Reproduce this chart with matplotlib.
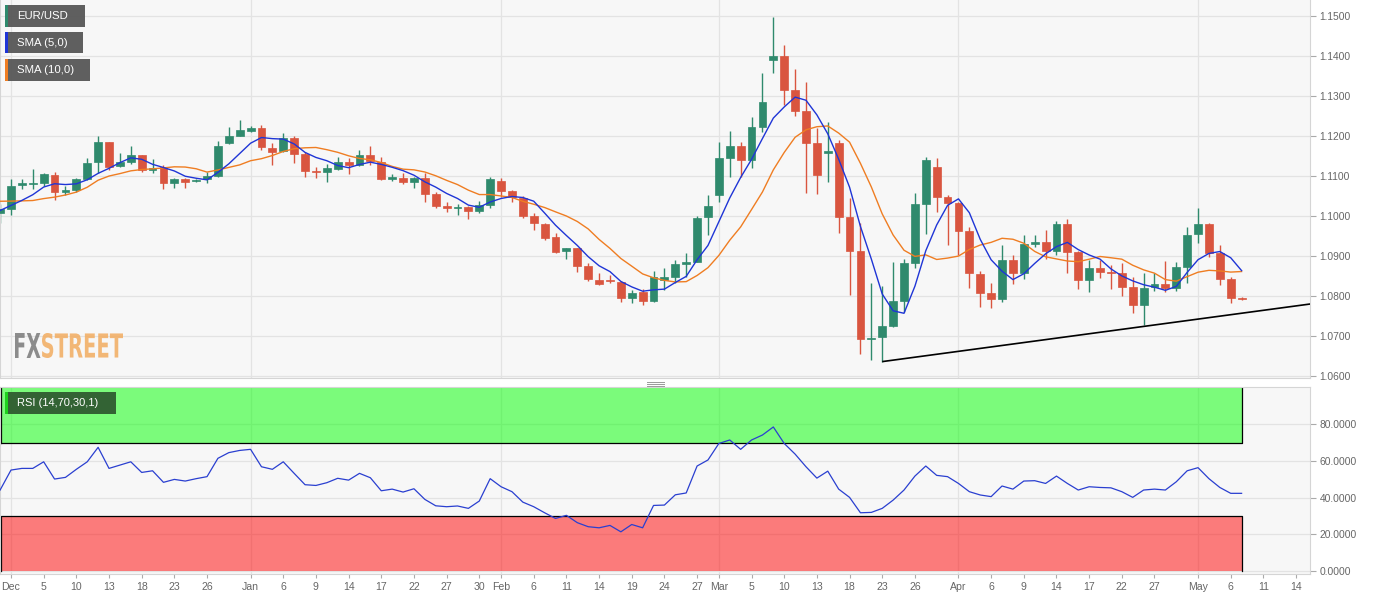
import pandas as pd
import numpy as np
import matplotlib
matplotlib.use("Agg")
import matplotlib.pyplot as plt
from matplotlib.patches import Rectangle, PathPatch
from matplotlib.lines import Line2D
from matplotlib.textpath import TextPath
from matplotlib.transforms import Affine2D
from matplotlib.font_manager import FontProperties

plt.rcParams['font.family'] = ['Liberation Sans', 'DejaVu Sans']

W, H = 1387, 598

# -----------------------------
# Data (EUR/USD daily)
# -----------------------------
axis_days = pd.bdate_range("2019-11-29", "2020-05-14")
candle_days = pd.bdate_range("2019-11-29", "2020-05-07")

# closes before the first visible candle (warm-up for the moving averages)
prior_closes = [1.1072, 1.1077, 1.1073, 1.1056, 1.1022, 1.1012, 1.1020, 1.1011, 1.1008]

opens = [1.1008,
         # Dec
         1.1018, 1.1077, 1.1080, 1.1083, 1.1103, 1.1059, 1.1065, 1.1092, 1.1134, 1.1184, 1.1125,
         1.1136, 1.1152, 1.1115, 1.1122, 1.1082, 1.1093, 1.1088, 1.1093, 1.1101, 1.1182, 1.1201,
         # Jan
         1.1213, 1.1219, 1.1171, 1.1163, 1.1196, 1.1155, 1.1112, 1.1109, 1.1117, 1.1135, 1.1128,
         1.1153, 1.1136, 1.1093, 1.1096, 1.1086, 1.1096, 1.1055, 1.1025, 1.1019, 1.1022, 1.1013,
         1.1028,
         # Feb
         1.1088, 1.1063, 1.1044, 1.1000, 1.0980, 1.0948, 1.0913, 1.0919, 1.0876, 1.0840, 1.0840,
         1.0836, 1.0796, 1.0809, 1.0788, 1.0840, 1.0848, 1.0880, 1.0886, 1.0997,
         # Mar
         1.1053, 1.1146, 1.1176, 1.1140, 1.1222, 1.1390, 1.1400, 1.1315, 1.1262, 1.1183, 1.1158,
         1.1183, 1.0998, 1.0913, 1.0692, 1.0697, 1.0726, 1.0788, 1.0883, 1.1030, 1.1122, 1.1047,
         # Apr
         1.1033, 1.0963, 1.0855, 1.0807, 1.0793, 1.0890, 1.0858, 1.0930, 1.0936, 1.0913, 1.0980,
         1.0911, 1.0840, 1.0869, 1.0861, 1.0857, 1.0823, 1.0778, 1.0822, 1.0830, 1.0819, 1.0872,
         # May
         1.0954, 1.0980, 1.0908, 1.0842, 1.0794]

highs = [1.1030,
         1.1092, 1.1092, 1.1117, 1.1107, 1.1111, 1.1075, 1.1094, 1.1144, 1.1200, 1.1186, 1.1158,
         1.1175, 1.1153, 1.1142, 1.1128, 1.1096, 1.1095, 1.1092, 1.1111, 1.1188, 1.1223, 1.1240,
         1.1226, 1.1228, 1.1182, 1.1207, 1.1200, 1.1160, 1.1122, 1.1130, 1.1147, 1.1145, 1.1165,
         1.1176, 1.1148, 1.1104, 1.1107, 1.1098, 1.1107, 1.1061, 1.1035, 1.1029, 1.1025, 1.1038,
         1.1097,
         1.1096, 1.1065, 1.1050, 1.1007, 1.0983, 1.0957, 1.0921, 1.0921, 1.0883, 1.0857, 1.0852,
         1.0838, 1.0815, 1.0818, 1.0863, 1.0871, 1.0890, 1.0907, 1.1000, 1.1053,
         1.1186, 1.1213, 1.1186, 1.1247, 1.1357, 1.1497, 1.1427, 1.1367, 1.1336, 1.1219, 1.1236,
         1.1190, 1.1044, 1.0983, 1.0832, 1.0826, 1.0886, 1.0893, 1.1058, 1.1147, 1.1144, 1.1053,
         1.1035, 1.0973, 1.0863, 1.0833, 1.0928, 1.0903, 1.0953, 1.0953, 1.0965, 1.0988, 1.0992,
         1.0913, 1.0890, 1.0890, 1.0878, 1.0883, 1.0848, 1.0857, 1.0857, 1.0888, 1.0886, 1.0972,
         1.1019, 1.0982, 1.0928, 1.0848, 1.0797]

lows = [1.0982,
        1.1002, 1.1067, 1.1067, 1.1076, 1.1040, 1.1052, 1.1059, 1.1090, 1.1108, 1.1115, 1.1123,
        1.1130, 1.1111, 1.1107, 1.1067, 1.1071, 1.1071, 1.1086, 1.1083, 1.1098, 1.1180, 1.1199,
        1.1211, 1.1165, 1.1128, 1.1160, 1.1132, 1.1097, 1.1094, 1.1084, 1.1115, 1.1106, 1.1125,
        1.1127, 1.1090, 1.1088, 1.1080, 1.1071, 1.1036, 1.1019, 1.1011, 1.1002, 1.0992, 1.1007,
        1.1019,
        1.1047, 1.1035, 1.0995, 1.0965, 1.0940, 1.0907, 1.0892, 1.0860, 1.0837, 1.0827, 1.0832,
        1.0786, 1.0783, 1.0778, 1.0786, 1.0815, 1.0833, 1.0848, 1.0884, 1.0953,
        1.1036, 1.1098, 1.1098, 1.1119, 1.1211, 1.1357, 1.1278, 1.1250, 1.1057, 1.1054, 1.1086,
        1.0957, 1.0803, 1.0655, 1.0640, 1.0636, 1.0723, 1.0761, 1.0869, 1.0955, 1.1011, 1.0928,
        1.0903, 1.0819, 1.0773, 1.0769, 1.0784, 1.0830, 1.0843, 1.0923, 1.0892, 1.0903, 1.0857,
        1.0817, 1.0811, 1.0846, 1.0817, 1.0800, 1.0757, 1.0728, 1.0812, 1.0811, 1.0812, 1.0833,
        1.0933, 1.0898, 1.0828, 1.0782, 1.0789]

closes = [1.1018,
          1.1075, 1.1083, 1.1082, 1.1104, 1.1059, 1.1065, 1.1092, 1.1133, 1.1184, 1.1122, 1.1136,
          1.1152, 1.1115, 1.1121, 1.1082, 1.1093, 1.1086, 1.1090, 1.1101, 1.1175, 1.1200, 1.1215,
          1.1219, 1.1172, 1.1161, 1.1194, 1.1155, 1.1113, 1.1109, 1.1120, 1.1134, 1.1128, 1.1153,
          1.1138, 1.1092, 1.1098, 1.1086, 1.1096, 1.1055, 1.1026, 1.1019, 1.1023, 1.1013, 1.1028,
          1.1092,
          1.1063, 1.1048, 1.1000, 1.0982, 1.0944, 1.0911, 1.0919, 1.0876, 1.0842, 1.0830, 1.0838,
          1.0796, 1.0808, 1.0788, 1.0847, 1.0847, 1.0879, 1.0884, 1.0996, 1.1026,
          1.1144, 1.1176, 1.1140, 1.1222, 1.1286, 1.1400, 1.1315, 1.1263, 1.1183, 1.1103, 1.1163,
          1.0998, 1.0913, 1.0692, 1.0696, 1.0726, 1.0788, 1.0882, 1.1030, 1.1140, 1.1048, 1.1033,
          1.0963, 1.0857, 1.0807, 1.0793, 1.0890, 1.0858, 1.0930, 1.0936, 1.0913, 1.0980, 1.0911,
          1.0840, 1.0869, 1.0861, 1.0858, 1.0823, 1.0778, 1.0821, 1.0830, 1.0819, 1.0872, 1.0953,
          1.0980, 1.0908, 1.0843, 1.0794, 1.0792]

rsi = [44.2,
       55.1, 56.0, 56.0, 59.6, 50.2, 51.1, 55.5, 59.6, 67.5, 56.0, 57.8,
       59.6, 53.8, 54.7, 48.4, 50.0, 49.1, 50.4, 51.5, 61.5, 64.6, 65.8,
       66.4, 56.9, 55.5, 59.6, 53.3, 47.1, 46.7, 48.2, 50.6, 49.6, 53.3,
       50.9, 43.8, 44.7, 43.1, 44.9, 39.1, 35.6, 35.1, 35.5, 34.2, 38.2,
       50.4,
       46.0, 43.3, 37.6, 35.1, 31.8, 28.7, 30.4, 26.4, 24.2, 23.6, 24.9,
       21.4, 25.4, 23.6, 35.8, 36.0, 41.6, 42.6, 57.3, 60.6,
       69.6, 71.5, 66.4, 71.5, 74.2, 78.6, 69.6, 63.8, 56.9, 50.7, 54.5,
       44.7, 40.2, 31.8, 32.0, 34.2, 38.7, 44.2, 51.8, 57.3, 52.2, 51.5,
       47.8, 43.3, 41.5, 40.6, 46.4, 44.7, 49.1, 49.3, 47.8, 51.8, 47.8,
       44.2, 46.0, 45.6, 45.4, 43.3, 40.2, 44.2, 44.7, 44.2, 48.7, 54.7,
       56.4, 50.4, 45.6, 42.4, 42.4]

tick_dates = ["2019-12-02", "2019-12-05", "2019-12-10", "2019-12-13", "2019-12-18", "2019-12-23",
              "2019-12-26", "2020-01-01", "2020-01-06", "2020-01-09", "2020-01-14", "2020-01-17",
              "2020-01-22", "2020-01-27", "2020-01-30", "2020-02-03", "2020-02-06", "2020-02-11",
              "2020-02-14", "2020-02-19", "2020-02-24", "2020-02-27", "2020-03-02", "2020-03-05",
              "2020-03-10", "2020-03-13", "2020-03-18", "2020-03-23", "2020-03-26", "2020-04-01",
              "2020-04-06", "2020-04-09", "2020-04-14", "2020-04-17", "2020-04-22", "2020-04-27",
              "2020-05-01", "2020-05-06", "2020-05-11", "2020-05-14"]
tick_labels = ["Dec", "5", "10", "13", "18", "23", "26", "Jan", "6", "9", "14", "17", "22", "27",
               "30", "Feb", "6", "11", "14", "19", "24", "27", "Mar", "5", "10", "13", "18", "23",
               "26", "Apr", "6", "9", "14", "17", "22", "27", "May", "6", "11", "14"]
month_dates = ["2019-12-02", "2020-01-01", "2020-02-03", "2020-03-02", "2020-04-01", "2020-05-01"]

# support line: start at the March 23 low, end past the right edge
trend_x = ["2020-03-23", 120.3]
trend_y = [1.0636, 1.0780]

price_ticks = [1.06, 1.07, 1.08, 1.09, 1.10, 1.11, 1.12, 1.13, 1.14, 1.15]
rsi_ticks = [0, 20, 40, 60, 80]

# -----------------------------
# Helpers
# -----------------------------
pos_of = {d: i for i, d in enumerate(axis_days)}
x = np.array([pos_of[d] for d in candle_days])
o, h, l, c = map(np.array, (opens, highs, lows, closes))

all_closes = pd.Series(prior_closes + closes)
sma5 = all_closes.rolling(5).mean().values[len(prior_closes):]
sma10 = all_closes.rolling(10).mean().values[len(prior_closes):]

UP = "#2f8a6d"
DOWN = "#d9553f"
BG = "#f7f7f7"
GRID = "#e3e3e3"
TXT = "#666666"


def fig_rect(px0, py0, px1, py1, **kw):
    return Rectangle((px0 / W, 1 - py1 / H), (px1 - px0) / W, (py1 - py0) / H,
                     transform=fig.transFigure, **kw)


def logo_word(word, px0, px1, py_top, py_bot, color):
    # text squeezed into a pixel box (the logo font is condensed)
    tp = TextPath((0, 0), word, size=10, prop=FontProperties(family="DejaVu Sans", weight="bold"))
    ext = tp.get_extents()
    tr = (Affine2D().translate(-ext.x0, -ext.y0)
          .scale((px1 - px0) / ext.width, (py_bot - py_top) / ext.height)
          .translate(px0, H - py_bot))
    fig.add_artist(PathPatch(tp, transform=tr, facecolor=color, lw=0, alpha=0.85))


fig = plt.figure(figsize=(W / 100, H / 100), dpi=100, facecolor="white")
ax = fig.add_axes([0, 1 - 378 / H, 1310 / W, 378 / H], facecolor=BG)
ax2 = fig.add_axes([0, 1 - 574 / H, 1310 / W, (574 - 387) / H], facecolor=BG)

xlim = (-0.01, 120.28)

# -----------------------------
# Price panel
# -----------------------------
for m in month_dates:
    ax.axvline(pos_of[pd.Timestamp(m)], color=GRID, lw=0.9, zorder=0)
ax.set_yticks(price_ticks)
ax.grid(axis="y", color=GRID, lw=0.9, zorder=0)
ax.set_axisbelow(True)

up = c >= o
colors = np.where(up, UP, DOWN)
ax.vlines(x, l, h, colors=colors, lw=1.0, zorder=2)
body_lo = np.minimum(o, c)
body_h = np.maximum(np.abs(c - o), 0.00008)
ax.bar(x, body_h, bottom=body_lo, width=0.72, color=colors, edgecolor=colors, lw=0.5, zorder=3)

ax.plot(x, sma10, color="#ef7d22", lw=1.0, zorder=4)
ax.plot(x, sma5, color="#1f35d6", lw=1.0, zorder=5)

tx = [pos_of[pd.Timestamp(trend_x[0])], trend_x[1]]
ax.plot(tx, trend_y, color="black", lw=1.2, zorder=6, solid_capstyle="butt")

ax.set_xlim(*xlim)
ax.set_ylim(1.0595, 1.1540)
ax.set_xticks([])
ax.yaxis.tick_right()
ax.yaxis.set_major_formatter(plt.FuncFormatter(lambda v, p: f"{v:.4f}"))
ax.tick_params(axis="y", length=4, color="#aaaaaa", labelsize=7.4, labelcolor=TXT, pad=3)
for s in ["top"]:
    ax.spines[s].set_visible(False)
for s in ["right", "bottom", "left"]:
    ax.spines[s].set_color("#d5d5d5")
    ax.spines[s].set_linewidth(0.8)

# -----------------------------
# RSI panel
# -----------------------------
for m in month_dates:
    ax2.axvline(pos_of[pd.Timestamp(m)], color=GRID, lw=0.9, zorder=0)
ax2.set_yticks(rsi_ticks)
ax2.grid(axis="y", color=GRID, lw=0.9, zorder=0)
ax2.set_axisbelow(True)

band_right = x[-1] + 0.05
ax2.add_patch(Rectangle((xlim[0], 70), band_right - xlim[0], 31.5, facecolor="#00ff00",
                        alpha=0.5, lw=0, zorder=1))
ax2.add_patch(Rectangle((xlim[0], 0), band_right - xlim[0], 30, facecolor="#ff0000",
                        alpha=0.5, lw=0, zorder=1))
ax2.plot([xlim[0] + 0.05, band_right, band_right], [70, 70, 101], color="black", lw=0.9, zorder=2)
ax2.plot([xlim[0] + 0.05, xlim[0] + 0.05], [70, 101], color="black", lw=0.9, zorder=2)
ax2.plot([xlim[0] + 0.05, xlim[0] + 0.05, band_right, band_right], [0, 30, 30, 0],
         color="black", lw=0.9, zorder=2)

ax2.plot(x, rsi, color="#2a3fd0", lw=0.9, zorder=4)

ax2.set_xlim(*xlim)
ax2.set_ylim(-1.6, 100.4)
ax2.set_xticks([pos_of[pd.Timestamp(d)] for d in tick_dates])
ax2.set_xticklabels(tick_labels)
ax2.yaxis.tick_right()
ax2.yaxis.set_major_formatter(plt.FuncFormatter(lambda v, p: f"{v:.4f}"))
ax2.tick_params(axis="y", length=4, color="#aaaaaa", labelsize=7.4, labelcolor=TXT, pad=3)
ax2.tick_params(axis="x", length=3, color="#aaaaaa", labelsize=7.6, labelcolor=TXT, pad=2.5)
for s in ax2.spines.values():
    s.set_color("#d5d5d5")
    s.set_linewidth(0.8)

# -----------------------------
# Legend tags and decorations
# -----------------------------
tags = [("EUR/USD", 5, 5, 85, 27, UP), ("SMA (5,0)", 5, 32, 83, 53, "#1f35d6"),
        ("SMA (10,0)", 5, 59, 90, 81, "#ef7d22")]
for label, x0, y0, x1, y1, col in tags:
    fig.add_artist(fig_rect(x0, y0, x1, y1, facecolor="#575757", alpha=0.95, lw=0))
    fig.add_artist(fig_rect(x0, y0, x0 + 2.5, y1, facecolor=col, lw=0))
    fig.text((x0 + 12) / W, 1 - (y0 + y1) / 2 / H, label, color="white", fontsize=8.2,
             va="center", ha="left")

fig.add_artist(fig_rect(5, 392, 116, 414, facecolor="#2f5b30", alpha=0.95, lw=0))
fig.add_artist(fig_rect(5, 392, 7.5, 414, facecolor="#1fd11f", lw=0))
fig.text(17 / W, 1 - 403 / H, "RSI (14,70,30,1)", color="white", fontsize=8.0, va="center")

# panel resize handle
for yy in (381.5, 383.5, 385.5):
    fig.add_artist(Line2D([647 / W, 664 / W], [1 - yy / H] * 2, color="#9a9a9a", lw=0.7,
                          transform=fig.transFigure))

# chart source logo
logo_word("FX", 15, 40.5, 333, 358, "#7a7a7a")
logo_word("STREET", 42, 123, 333, 358, "#f2ac60")

plt.savefig("out.png", dpi=100, facecolor="white")
plt.close()
